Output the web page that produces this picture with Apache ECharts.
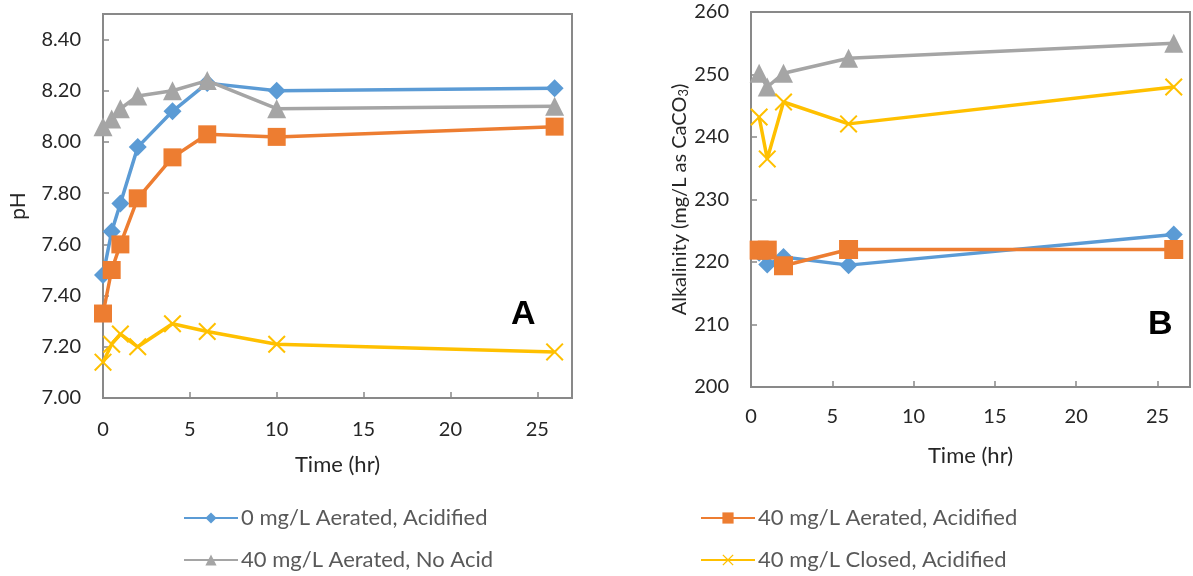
<!DOCTYPE html>
<html>
<head>
<meta charset="utf-8">
<script src="https://cdn.jsdelivr.net/npm/echarts@6/dist/echarts.min.js"></script>
<style>
html,body{margin:0;padding:0;background:#fff;}
#chart{width:1193px;height:576px;}
</style>
</head>
<body>
<div id="chart"></div>
<script>
// ---- Data ----
const seriesNames = ['0 mg/L Aerated, Acidified', '40 mg/L Aerated, Acidified', '40 mg/L Aerated, No Acid', '40 mg/L Closed, Acidified'];
const timeA = [0, 0.5, 1, 2, 4, 6, 10, 26];
const phBlue   = [7.48, 7.65, 7.76, 7.98, 8.12, 8.23, 8.20, 8.21];
const phOrange = [7.33, 7.50, 7.60, 7.78, 7.94, 8.03, 8.02, 8.06];
const phGray   = [8.06, 8.09, 8.13, 8.18, 8.20, 8.24, 8.13, 8.14];
const phYellow = [7.14, 7.21, 7.25, 7.20, 7.29, 7.26, 7.21, 7.18];
const timeB = [0.5, 1, 2, 6, 26];
const alkBlue   = [221.5, 219.6, 220.8, 219.5, 224.4];
const alkOrange = [221.9, 221.9, 219.4, 222.0, 222.0];
const alkGray   = [250.2, 248.0, 250.2, 252.6, 255.0];
const alkYellow = [243.2, 236.5, 245.6, 242.1, 248.0];
const xTicks = [0, 5, 10, 15, 20, 25];
const phTicks = [7.0, 7.2, 7.4, 7.6, 7.8, 8.0, 8.2, 8.4];
const alkTicks = [200, 210, 220, 230, 240, 250, 260];

const colors = ['#5B9BD5', '#ED7D31', '#A5A5A5', '#FFC000'];
const d = 1.6;
const crossPath = 'path://M0,' + d + 'L' + d + ',0L10,' + (10 - d) + 'L' + (20 - d) + ',0L20,' + d + 'L' + (10 + d) + ',10L20,' + (20 - d) + 'L' + (20 - d) + ',20L10,' + (10 + d) + 'L' + d + ',20L0,' + (20 - d) + 'L' + (10 - d) + ',10Z';
const symbols = ['diamond', 'rect', 'triangle', crossPath];
const sizesA = [18, 18, 19, 18];
const sizesB = [18, 19, 19, 18];

const pair = (xs, ys) => xs.map((x, i) => [x, ys[i]]);
const dataA = [phBlue, phOrange, phGray, phYellow];
const dataB = [alkBlue, alkOrange, alkGray, alkYellow];

const FONT = 'Lato';
const axisCol = '#898989';
const labelCol = '#262626';

function xAxis(gridIndex, margin, gap) {
  return {
    type: 'value', gridIndex: gridIndex, min: 0, max: 27, interval: 5,
    axisLine: { show: true, lineStyle: { color: axisCol, width: 2 } },
    axisTick: { show: true, inside: true, length: 6, lineStyle: { color: axisCol, width: 1.5 } },
    splitLine: { show: false },
    axisLabel: {
      margin: margin, fontFamily: FONT, fontSize: 20, color: labelCol,
      formatter: v => (xTicks.indexOf(v) >= 0 ? String(v) : '')
    },
    name: 'Time (hr)', nameLocation: 'middle', nameGap: gap,
    nameTextStyle: { fontFamily: FONT, fontSize: 22, color: labelCol }
  };
}

const option = {
  animation: false,
  backgroundColor: '#fff',
  grid: [
    { left: 103, top: 14, width: 469, height: 384, show: true, borderColor: axisCol, borderWidth: 2, containLabel: false },
    { left: 751, top: 12, width: 448, height: 375, show: true, borderColor: axisCol, borderWidth: 2, containLabel: false }
  ],
  xAxis: [xAxis(0, 22, 56), xAxis(1, 20, 58)],
  yAxis: [
    {
      type: 'value', gridIndex: 0, min: 7.0, max: 8.5, interval: 0.2,
      axisLine: { show: true, lineStyle: { color: axisCol, width: 2 } },
      axisTick: { show: true, inside: true, length: 6, lineStyle: { color: axisCol, width: 1.5 } },
      splitLine: { show: false },
      axisLabel: {
        margin: 22, fontFamily: FONT, fontSize: 20, color: labelCol,
        formatter: v => (phTicks.some(t => Math.abs(t - v) < 1e-6) ? v.toFixed(2) : '')
      },
      name: 'pH', nameLocation: 'middle', nameGap: 74,
      nameTextStyle: { fontFamily: FONT, fontSize: 21, color: labelCol }
    },
    {
      type: 'value', gridIndex: 1, min: 200, max: 260, interval: 10,
      axisLine: { show: true, lineStyle: { color: axisCol, width: 2 } },
      axisTick: { show: true, inside: true, length: 6, lineStyle: { color: axisCol, width: 1.5 } },
      splitLine: { show: false },
      axisLabel: {
        margin: 22, fontFamily: FONT, fontSize: 20, color: labelCol,
        formatter: v => (alkTicks.indexOf(v) >= 0 ? String(v) : '')
      },
      name: 'Alkalinity (mg/L as CaCO{sub|3})', nameLocation: 'middle', nameGap: 56,
      nameTextStyle: {
        fontFamily: FONT, fontSize: 20, color: labelCol,
        rich: { sub: { fontFamily: FONT, fontSize: 13, color: labelCol, verticalAlign: 'bottom', padding: [8, 0, 0, 0] } }
      }
    }
  ],
  legend: [
    { left: 183, top: 507, data: [seriesNames[0]] },
    { left: 700, top: 507, data: [seriesNames[1]] },
    { left: 183, top: 549, data: [seriesNames[2]] },
    { left: 700, top: 549, data: [seriesNames[3]] }
  ].map(l => Object.assign(l, {
    orient: 'horizontal', itemWidth: 54, itemHeight: 14, itemGap: 4, padding: 0,
    textStyle: { fontFamily: FONT, fontSize: 22, color: '#595959', padding: [0, 0, 0, -2] }
  })),
  graphic: [
    { type: 'text', left: 511, top: 298, style: { text: 'A', font: 'bold 34px "Liberation Sans", Arial', fill: '#000' } },
    { type: 'text', left: 1148, top: 308, style: { text: 'B', font: 'bold 34px "Liberation Sans", Arial', fill: '#000' } }
  ],
  series: []
};

for (let i = 0; i < 4; i++) {
  option.series.push({
    name: seriesNames[i], type: 'line', xAxisIndex: 0, yAxisIndex: 0,
    data: pair(timeA, dataA[i]), symbol: symbols[i], symbolSize: sizesA[i],
    color: colors[i], lineStyle: { width: 3.5, color: colors[i] },
    itemStyle: { color: colors[i] }, z: 2 + i
  });
}
for (let i = 0; i < 4; i++) {
  option.series.push({
    name: seriesNames[i], type: 'line', xAxisIndex: 1, yAxisIndex: 1,
    data: pair(timeB, dataB[i]), symbol: symbols[i], symbolSize: sizesB[i],
    color: colors[i], lineStyle: { width: 3.5, color: colors[i] },
    itemStyle: { color: colors[i] }, z: 2 + i
  });
}

const chart = echarts.init(document.getElementById('chart'), null, { renderer: 'canvas' });
chart.setOption(option);
</script>
</body>
</html>
